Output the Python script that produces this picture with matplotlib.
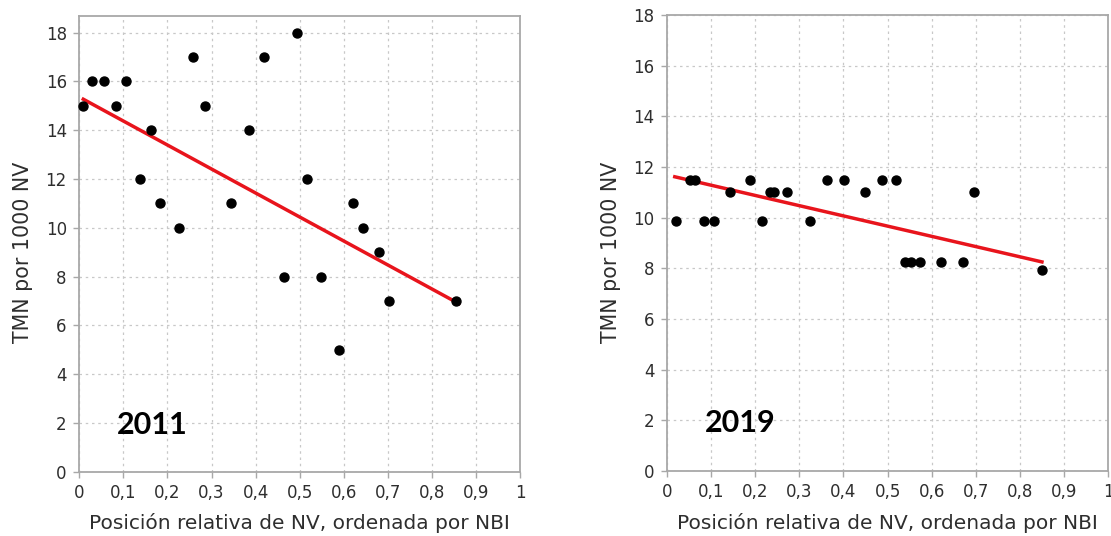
import matplotlib
matplotlib.use("Agg")
import matplotlib.pyplot as plt

# 2011 panel
x_2011 = [0.009, 0.029, 0.055, 0.083, 0.106, 0.137, 0.162, 0.184, 0.226, 0.257,
          0.286, 0.344, 0.386, 0.418, 0.464, 0.495, 0.517, 0.548, 0.590, 0.621,
          0.643, 0.680, 0.702, 0.854]
y_2011 = [15, 16, 16, 15, 16, 12, 14, 11, 10, 17,
          15, 11, 14, 17, 8, 18, 12, 8, 5, 11,
          10, 9, 7, 7]
trend_x_2011 = [0.009, 0.861]
trend_y_2011 = [15.27, 6.89]

# 2019 panel
x_2019 = [0.021, 0.051, 0.064, 0.084, 0.106, 0.142, 0.188, 0.216, 0.233, 0.242,
          0.271, 0.323, 0.363, 0.402, 0.448, 0.488, 0.519, 0.540, 0.553, 0.573,
          0.622, 0.671, 0.695, 0.851]
y_2019 = [9.85, 11.5, 11.5, 9.85, 9.85, 11.0, 11.5, 9.85, 11.0, 11.0,
          11.0, 9.85, 11.5, 11.5, 11.0, 11.5, 11.5, 8.25, 8.25, 8.25,
          8.25, 8.25, 11.0, 7.95]
trend_x_2019 = [0.0175, 0.850]
trend_y_2019 = [11.61, 8.25]

x_ticks = [0, 0.1, 0.2, 0.3, 0.4, 0.5, 0.6, 0.7, 0.8, 0.9, 1]
x_tick_labels = ["0", "0,1", "0,2", "0,3", "0,4", "0,5", "0,6", "0,7", "0,8", "0,9", "1"]
y_ticks = [0, 2, 4, 6, 8, 10, 12, 14, 16, 18]

XLABEL = "Posición relativa de NV, ordenada por NBI"
YLABEL = "TMN por 1000 NV"

plt.rcParams["font.family"] = ["DejaVu Sans"]

fig = plt.figure(figsize=(11.11, 5.36), dpi=100)
ax1 = fig.add_axes([0.0714, 0.120, 0.3967, 0.851])
ax2 = fig.add_axes([0.6004, 0.1213, 0.397, 0.851])


def style_panel(ax, ytop):
    ax.set_xlim(0, 1)
    ax.set_ylim(0, ytop)
    ax.set_xticks(x_ticks)
    ax.set_xticklabels(x_tick_labels)
    ax.set_yticks(y_ticks)
    ax.grid(True, color="#c8c8c8", linestyle=(0, (2, 3)), linewidth=0.9)
    ax.set_axisbelow(True)
    for side in ax.spines.values():
        side.set_color("#a8a8a8")
        side.set_linewidth(1.3)
    ax.tick_params(axis="both", colors="#a8a8a8", labelcolor="#2e2e2e",
                   labelsize=12, length=4, width=1, pad=5)
    ax.set_xlabel(XLABEL, fontsize=14.5, color="#2e2e2e", labelpad=8)
    ax.set_ylabel(YLABEL, fontsize=14.8, color="#2e2e2e")
    ax.yaxis.set_label_coords(-0.105, 0.48)


for ax, xs, ys, tx, ty, year, ytop in [
        (ax1, x_2011, y_2011, trend_x_2011, trend_y_2011, "2011", 18.7),
        (ax2, x_2019, y_2019, trend_x_2019, trend_y_2019, "2019", 18.0)]:
    style_panel(ax, ytop)
    ax.plot(tx, ty, color="#e8141c", linewidth=2.5, zorder=3)
    ax.scatter(xs, ys, s=42, color="black", zorder=4, clip_on=False)
    ax.text(0.166, 1.9, year, fontsize=22, fontweight="bold",
            family=["Lato", "DejaVu Sans"], color="black",
            ha="center", va="center")

fig.savefig("out.png", dpi=100)
